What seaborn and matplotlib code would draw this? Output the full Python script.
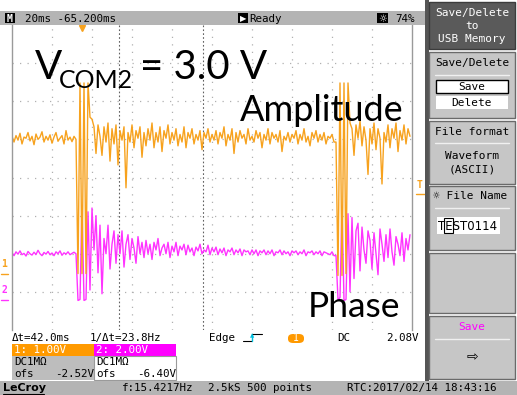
import numpy as np
import pandas as pd
import matplotlib
matplotlib.use("Agg")
import matplotlib.pyplot as plt
from matplotlib.patches import Rectangle, FancyBboxPatch
from matplotlib.lines import Line2D
import seaborn as sns

# ---------------- data ----------------
timebase_ms = 20.0          # ms / div
delay_ms = -65.2            # trigger delay
cursor_a_div = 2.675        # cursor positions (div)
cursor_b_div = 4.775
ch1_vdiv, ch1_ofs = 1.00, -2.52
ch2_vdiv, ch2_ofs = 2.00, -6.40
trig_level_v = 2.08

# channel 1 (amplitude), volts
ch1_pre = [3.60, 3.45, 3.62, 3.50, 3.68, 3.40, 3.58, 3.55, 3.70, 3.48, 3.60, 3.38, 3.66,
           3.52, 3.58, 3.72, 3.45, 3.60, 3.50, 3.64, 3.42, 3.58, 3.70, 3.47, 3.55, 3.62,
           3.40, 3.75, 3.50, 3.58, 3.46, 3.60, 3.52]
ch1_burst1 = [0.0, 5.0, 0.0, 5.0, 0.0, 5.0, 4.1]
ch1_post1 = [4.05, 3.85, 3.15, 3.90, 3.60, 3.10, 3.85, 3.45, 3.95, 2.95, 3.80, 3.40, 3.90,
             2.85, 3.75, 3.50, 3.85, 2.25, 3.70, 3.45, 3.90, 3.30, 3.75, 3.55, 3.85, 3.05, 3.70]
ch1_mid = [3.35, 3.80, 3.50, 3.95, 3.30, 3.70, 3.45, 3.85, 3.20, 3.75, 3.55, 3.90, 3.40, 3.70,
           3.50, 3.80, 3.35, 3.65, 3.45, 3.85, 3.30, 3.70, 3.55, 3.80, 3.40, 3.65, 3.50, 3.75,
           3.25, 3.70, 3.55, 3.80, 3.45, 3.65,
           3.50, 3.75, 3.40, 3.70, 3.55, 3.85, 3.35, 3.65, 3.50, 3.80, 3.15, 3.70, 3.45, 3.75,
           3.55, 3.65, 3.40, 3.80, 3.50, 3.60,
           3.45, 3.75, 3.55, 3.70, 3.30, 3.65, 3.50, 3.80, 3.40, 3.70, 3.55, 3.65, 3.45, 3.75,
           3.20, 3.60, 3.50, 3.70, 3.45, 3.65,
           3.55, 3.75, 3.40, 3.65, 3.50, 3.80, 3.45, 3.60, 3.35, 3.70, 3.55, 3.75, 3.45, 3.65,
           3.50, 3.70, 3.40, 3.60, 3.55, 3.65, 3.45]
ch1_burst2 = [3.45, -0.05, 5.0, -0.05, 5.0, 0.0, 5.0, 3.95]
ch1_post2 = [3.80, 3.10, 3.90, 3.55, 4.00, 3.35, 3.85, 3.50, 2.60, 3.80, 3.40, 3.95, 3.25,
             3.80, 3.55, 2.35, 3.70, 3.45, 3.90, 3.30, 3.80, 3.55, 3.95, 3.20, 3.75, 3.50,
             3.90, 3.40, 3.80, 3.60]

# channel 2 (phase), volts
ch2_pre = [2.45, 2.30, 2.50, 2.38, 2.55, 2.35, 2.42, 2.28, 2.52, 2.40, 2.33, 2.48, 2.36,
           2.58, 2.40, 2.30, 2.47, 2.38, 2.52, 2.35, 2.44, 2.30, 2.50, 2.40, 2.55, 2.32,
           2.45, 2.38, 2.50, 2.35, 2.42, 2.48, 2.40]
ch2_burst1 = [-0.05, 0.0, 4.95, -0.05, 0.0, 4.6, 0.5]
ch2_post1 = [4.8, 2.6, 4.4, 1.4, 3.9, 0.3, 3.2, 2.4, 3.9, 1.6, 2.9, 3.6, 1.9, 3.4, 2.4,
             3.6, 1.7, 2.9, 3.4, 2.1, 3.2, 2.7, 1.9, 3.3, 2.4, 3.0, 2.2]
ch2_mid = [3.1, 2.4, 2.9, 2.1, 3.0, 2.6, 3.2, 2.3, 2.7, 2.9, 2.4, 3.0, 2.2, 2.8,
           2.5, 3.0, 2.3, 2.8, 2.6, 2.9, 2.35, 2.85, 2.5, 2.7, 2.3, 2.75, 2.55, 2.9, 2.4,
           2.6, 2.5, 2.85, 2.35, 2.7,
           2.5, 2.75, 2.35, 2.65, 2.45, 2.7, 2.3, 2.6, 2.5, 2.7, 2.35, 2.6, 2.45, 2.65,
           2.3, 2.6, 2.5, 2.55, 2.35, 2.6,
           2.4, 2.6, 2.3, 2.55, 2.45, 2.6, 2.35, 2.55, 2.4, 2.6, 2.3, 2.5, 2.45, 2.6,
           2.35, 2.55, 2.4, 2.5, 2.3, 2.55,
           2.45, 2.55, 2.35, 2.5, 2.4, 2.6, 2.3, 2.5, 2.45, 2.55, 2.35, 2.5, 2.4, 2.55,
           2.3, 2.5, 2.45, 2.4, 2.35, 2.5, 2.3]
ch2_burst2 = [2.3, 0.0, 0.1, 4.9, -0.05, 0.0, 4.5, 0.4]
ch2_post2 = [4.3, 1.1, 3.6, 4.0, 1.5, 3.8, 2.6, 1.9, 3.6, 3.1, 1.6, 3.5, 2.4, 1.3, 3.7,
             2.9, 2.0, 3.4, 2.2, 3.7, 2.5, 1.8, 3.3, 2.9, 2.3, 3.5, 2.0, 3.2, 2.6, 3.4]

ch1 = np.concatenate([ch1_pre, ch1_burst1, ch1_post1, ch1_mid, ch1_burst2, ch1_post2])
ch2 = np.concatenate([ch2_pre, ch2_burst1, ch2_post1, ch2_mid, ch2_burst2, ch2_post2])

n = len(ch1)
t_div = np.arange(n) * 10.0 / n
df = pd.concat([
    pd.DataFrame({"t": t_div, "div": (ch2 + ch2_ofs) / ch2_vdiv, "ch": "2"}),
    pd.DataFrame({"t": t_div, "div": (ch1 + ch1_ofs) / ch1_vdiv, "ch": "1"}),
], ignore_index=True)

ORANGE = "#F7A21E"
MAGENTA = "#FF33FF"
MONO = "DejaVu Sans Mono"
BIG = "Lato"

# ---------------- figure ----------------
sns.set_style("white")
plt.rcParams["font.family"] = ["DejaVu Sans"]
plt.rcParams["text.color"] = "black"
W, H = 517, 395
fig = plt.figure(figsize=(W / 100, H / 100), dpi=100)
fig.patch.set_facecolor("white")


def prect(x, y, w, h, **kw):
    r = Rectangle((x / W, 1 - (y + h) / H), w / W, h / H, transform=fig.transFigure, **kw)
    fig.add_artist(r)
    return r


def ptext(x, y, s, **kw):
    kw.setdefault("va", "center")
    kw.setdefault("family", MONO)
    kw.setdefault("fontsize", 7.8)
    kw.setdefault("color", "black")
    return fig.text(x / W, 1 - y / H, s, **kw)


def pline(x0, y0, x1, y1, **kw):
    fig.add_artist(Line2D([x0 / W, x1 / W], [1 - y0 / H, 1 - y1 / H],
                          transform=fig.transFigure, **kw))


ax = fig.add_axes([12 / W, (H - 330) / H, 400 / W, 305 / H])
ax.set_xlim(0, 10)
ax.set_ylim(-4, 4)
ax.set_xticks([])
ax.set_yticks([])
for s in ["top", "bottom"]:
    ax.spines[s].set_visible(False)
for s in ["left", "right"]:
    ax.spines[s].set_color("#9a9a9a")
    ax.spines[s].set_linewidth(1.0)

for gx in range(1, 10):
    ax.axvline(gx, color="#b0b0b0", lw=0.9, ls=(0, (1, 5)), zorder=0)
for gy in range(-3, 4):
    ax.axhline(gy, color="#b0b0b0", lw=0.9, ls=(0, (1, 5)), zorder=0)
for cx in (cursor_a_div, cursor_b_div):
    ax.axvline(cx, color="#606060", lw=0.8, ls=(0, (1.5, 2)), zorder=0)

sns.lineplot(data=df, x="t", y="div", hue="ch", hue_order=["2", "1"],
             palette={"1": ORANGE, "2": MAGENTA}, estimator=None, sort=False,
             legend=False, linewidth=1.0, ax=ax)
ax.set_xlabel("")
ax.set_ylabel("")

# trigger position marker
trig_div = 5 + delay_ms / timebase_ms
ax.plot([trig_div], [3.93], marker="v", color=ORANGE, ms=5, clip_on=False)
# trigger level marker
lvl = (trig_level_v + ch1_ofs) / ch1_vdiv
ax.text(10.12, lvl + 0.12, "T", color=ORANGE, fontsize=7, family=MONO, weight="bold",
        ha="left", va="bottom", clip_on=False)
ax.plot([10.1, 10.38], [lvl, lvl], color=ORANGE, lw=1, clip_on=False)
# ground markers
g1 = ch1_ofs / ch1_vdiv
g2 = ch2_ofs / ch2_vdiv
ax.text(-0.2, g1 + 0.12, "1", color=ORANGE, fontsize=7, family=MONO, weight="bold",
        ha="center", va="bottom", clip_on=False)
ax.plot([-0.27, -0.1], [g1, g1], color=ORANGE, lw=1, clip_on=False)
ax.text(-0.2, g2 + 0.12, "2", color=MAGENTA, fontsize=7, family=MONO, weight="bold",
        ha="center", va="bottom", clip_on=False)
ax.plot([-0.27, -0.1], [g2, g2], color=MAGENTA, lw=1, clip_on=False)

# ---------------- header bar ----------------
prect(0, 11, 427, 14, fc="#b4b4b4", ec="none")
prect(5, 13, 10, 10, fc="black", ec="none")
ptext(10, 18.5, "M", color="white", ha="center", fontsize=7, weight="bold")
ptext(25, 18.5, "20ms -65.200ms")
prect(238, 13, 10, 10, fc="black", ec="none")
ptext(243, 18.5, "\u25B6", color="white", ha="center", fontsize=6, family="DejaVu Sans")
ptext(249, 18.5, "Ready")
prect(377, 13, 11, 10, fc="black", ec="none")
ptext(382.5, 18.5, "\u263C", color="white", ha="center", fontsize=7, family="DejaVu Sans")
ptext(395, 18.5, "74%")

# ---------------- right panel ----------------
prect(425, 0, 4, 381, fc="#555555", ec="none")
prect(429, 2, 86, 47, fc="#5a5a5a", ec="#3c3c3c", lw=1)
for yy, s in [(13, "Save/Delete"), (26, "to"), (39, "USB Memory")]:
    ptext(472, yy, s, color="white", ha="center", fontsize=8)
panels = [(52, 66), (121, 63), (186, 64), (253, 60), (316, 63)]
for y0, hh in panels:
    prect(429, y0, 86, hh, fc="#c6c6c6", ec="#6a6a6a", lw=1)
ptext(472, 63, "Save/Delete", ha="center", fontsize=8)
pline(435, 75, 509, 75, color="#f0f0f0", lw=1)
prect(436, 80, 72, 13, fc="white", ec="black", lw=1)
ptext(472, 86.5, "Save", ha="center", fontsize=8)
prect(436, 96, 72, 13, fc="white", ec="none")
ptext(472, 102.5, "Delete", ha="center", fontsize=8)
ptext(472, 132, "File format", ha="center", fontsize=8)
pline(435, 143, 509, 143, color="#f0f0f0", lw=1)
ptext(472, 156, "Waveform", ha="center", fontsize=8)
ptext(472, 169, "(ASCII)", ha="center", fontsize=8)
ptext(433, 196, "\u263C File Name", ha="left", fontsize=8)
pline(435, 208, 509, 208, color="#f0f0f0", lw=1)
prect(437, 217, 63, 17, fc="white", ec="none")
prect(444, 218, 9, 15, fc="none", ec="black", lw=0.8)
ptext(468, 226, "TEST0114", ha="center", fontsize=8.5, family="DejaVu Sans")
ptext(472, 327, "Save", ha="center", fontsize=8, color="#ff00ff")
pline(435, 339, 509, 339, color="#f0f0f0", lw=1)
ptext(472, 357, "\u21E8", ha="center", fontsize=10, family="DejaVu Sans")

# ---------------- bottom status ----------------
ptext(12, 338, "\u0394t=42.0ms")
ptext(90, 338, "1/\u0394t=23.8Hz")
ptext(209, 338, "Edge")
pline(243, 341, 252, 341, color="black", lw=0.8)
pline(252, 341, 252, 334, color="#00c0e0", lw=1)
pline(252, 334, 262, 334, color="black", lw=0.8)
ptext(252, 336, "\u25B2", color="#00c0e0", ha="center", fontsize=4, family="DejaVu Sans")
fig.add_artist(FancyBboxPatch((288 / W, 1 - 343 / H), 16 / W, 9 / H,
                              boxstyle="round,pad=0,rounding_size=0.01",
                              transform=fig.transFigure, fc="#ff9900", ec="none"))
ptext(296, 338, "1", color="white", ha="center", fontsize=7)
ptext(337, 338, "DC")
ptext(419, 338, "2.08V", ha="right")

prect(12, 344, 82, 12, fc="#ff9a00", ec="none")
ptext(14, 350, "1: 1.00V", color="white")
prect(12, 356, 82, 24, fc="#bdbdbd", ec="none")
ptext(14, 362, "DC1M\u03A9")
ptext(14, 374, "ofs")
ptext(94, 374, "-2.52V", ha="right")
prect(94, 344, 82, 12, fc="#ff00ff", ec="none")
ptext(96, 350, "2: 2.00V", color="white")
prect(94, 356, 82, 24, fc="white", ec="#9a9a9a", lw=0.8)
ptext(96, 362, "DC1M\u03A9")
ptext(96, 374, "ofs")
ptext(176, 374, "-6.40V", ha="right")

prect(0, 381, W, 14, fc="#b4b4b4", ec="none")
ptext(3, 388, "LeCroy", family="DejaVu Sans", weight="bold", fontsize=8)
pline(3, 394, 44, 394, color="black", lw=0.8)
ptext(122, 388, "f:15.4217Hz")
ptext(208, 388, "2.5kS 500 points")
ptext(347, 388, "RTC:2017/02/14 18:43:16")

# ---------------- overlay annotation ----------------
ptext(35, 79, "V", family=BIG, fontsize=29, va="baseline")
ptext(59, 88, "COM2", family=BIG, fontsize=18, va="baseline")
ptext(140, 79, "= 3.0 V", family=BIG, fontsize=29, va="baseline")
ptext(240, 121, "Amplitude", family=BIG, fontsize=26, va="baseline")
ptext(308, 317, "Phase", family=BIG, fontsize=25.5, va="baseline")

fig.savefig("out.png", dpi=100)
